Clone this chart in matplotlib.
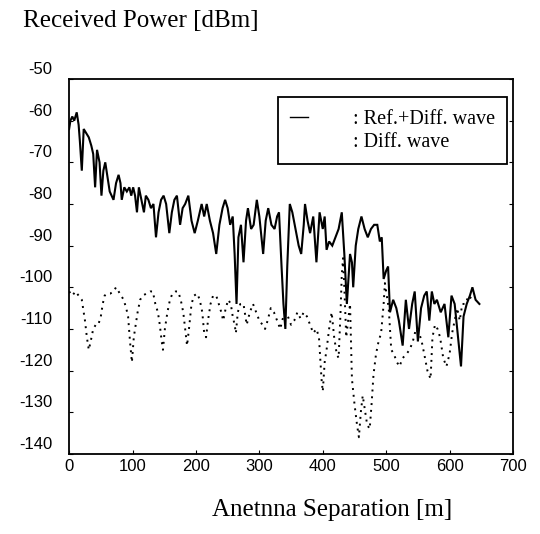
import matplotlib
matplotlib.use('Agg')
import matplotlib.pyplot as plt
import matplotlib.transforms as mtransforms
from matplotlib.lines import Line2D

plt.rcParams['font.family'] = 'Liberation Sans'
plt.rcParams['axes.unicode_minus'] = False

# Ref.+Diff. wave (solid)
sep_total = [0, 2, 5, 8, 12, 15, 17, 20, 23, 27, 31, 35, 38, 41, 44, 48, 51, 54, 57, 60,
             64, 67, 70, 74, 78, 81, 83, 87, 91, 95, 98, 101, 104, 107, 110, 114, 118, 121, 125, 129,
             133, 137, 141, 145, 149, 153, 158, 162, 166, 170, 175, 179, 183, 188, 193, 198, 203, 209, 213, 217,
             222, 227, 232, 237, 242, 246, 250, 254, 258, 261, 264, 267, 271, 275, 279, 282, 287, 291, 296, 300,
             306, 310, 314, 319, 324, 328, 331, 335, 338, 341, 344, 348, 352, 357, 362, 366, 370, 372, 376, 380,
             385, 390, 395, 400, 403, 406, 410, 415, 420, 425, 430, 434, 438, 441, 443, 446, 448, 452, 456, 461,
             466, 471, 476, 481, 486, 490, 493, 496, 500, 503, 506, 511, 516, 520, 526, 531, 536, 541, 545, 550,
             555, 560, 564, 568, 572, 576, 580, 586, 592, 598, 603, 608, 612, 618, 622, 627, 632, 636, 641, 647]
pow_total = [-62, -60, -59, -60, -58, -61, -65, -72, -62, -63, -64, -66, -68, -76, -67, -70, -78, -72, -70, -73,
             -77, -78, -79, -75, -73, -75, -79, -76, -77, -76, -78, -76, -78, -82, -76, -79, -82, -78, -79, -81,
             -80, -88, -82, -79, -78, -80, -87, -82, -79, -78, -85, -81, -80, -78, -84, -87, -84, -80, -83, -80,
             -84, -87, -92, -85, -81, -79, -81, -85, -83, -92, -104, -88, -85, -94, -84, -81, -86, -85, -79, -83,
             -92, -84, -81, -85, -86, -83, -82, -95, -104, -110, -95, -80, -82, -86, -90, -92, -85, -80, -84, -87,
             -83, -94, -82, -86, -83, -91, -89, -90, -88, -86, -82, -92, -104, -97, -92, -94, -100, -90, -86, -83,
             -86, -88, -86, -85, -85, -89, -88, -98, -96, -95, -106, -103, -105, -108, -114, -103, -110, -104, -101, -113,
             -105, -102, -101, -108, -101, -104, -103, -106, -104, -112, -102, -104, -110, -119, -107, -104, -102, -100, -103, -104]

# Diff. wave (dotted)
sep_diff = [0, 5, 10, 15, 20, 25, 28, 31, 34, 38, 42, 46, 50, 53, 56, 60, 65, 70, 74, 78,
            82, 86, 90, 93, 96, 99, 102, 105, 108, 112, 116, 122, 128, 132, 136, 140, 143, 146, 148, 151,
            155, 159, 163, 168, 172, 176, 180, 183, 186, 189, 193, 197, 202, 206, 210, 213, 216, 219, 223, 227,
            232, 236, 240, 243, 247, 251, 255, 258, 261, 263, 266, 270, 275, 280, 285, 290, 295, 300, 305, 309,
            313, 318, 323, 328, 333, 336, 340, 345, 350, 355, 360, 365, 370, 375, 380, 385, 390, 394, 398, 400,
            403, 406, 410, 414, 418, 422, 425, 428, 430, 432, 434, 437, 440, 443, 446, 450, 454, 457, 460, 463,
            466, 470, 474, 477, 480, 484, 488, 492, 496, 498, 501, 504, 508, 512, 517, 521, 526, 532, 537, 542,
            547, 552, 556, 560, 565, 570, 573, 577, 581, 585, 590, 595, 600, 604, 608, 612, 616, 620, 625, 630,
            636, 641]
pow_diff = [-101, -102, -101, -102, -103, -108, -112, -115, -113, -110, -109, -109, -107, -104, -102, -101.5, -101.5, -101, -100, -101,
            -102, -103, -105, -107, -113, -118, -112, -109, -106, -103, -102, -101.5, -101, -101, -104, -106, -109, -113, -115, -110,
            -106, -103, -101.5, -101, -101, -103, -106, -110, -114, -110, -104, -102, -101.5, -103, -106, -111, -112, -108, -104, -102,
            -102, -104, -106, -108, -105, -103, -104, -107, -109, -111, -106, -104, -104, -109, -106, -104, -106, -108, -109, -110,
            -108, -105, -106, -108, -110, -108, -106, -107, -109, -108, -106, -107.5, -106, -107, -109, -111, -110, -112, -122, -125,
            -118, -115, -110, -106, -112, -116, -117, -106, -97, -93, -100, -112, -108, -104, -122, -128, -133, -136, -130, -126,
            -129, -133, -134, -128, -121, -116, -113, -111, -104, -99, -102, -105, -115, -116, -118, -119, -117, -116, -115, -113,
            -110, -111, -113, -116, -120, -122, -112, -109, -110, -112, -117, -119, -116, -111, -108, -105, -108, -104, -104, -102,
            -103, -103]

yticks = list(range(-140, -40, 10))
xticks = list(range(0, 800, 100))

fig = plt.figure(figsize=(5.4, 5.34), dpi=100)
ax = fig.add_axes([0.128, 0.150, 0.822, 0.702])

ax.plot(sep_total, pow_total, color='black', lw=1.5, solid_joinstyle='miter')
ax.plot(sep_diff, pow_diff, color='black', lw=1.4, ls=(0, (1, 2.5)))

ax.set_xlim(0, 700)
ax.set_ylim(-140, -50)
ax.set_xticks(xticks)
ax.set_yticks(yticks)
ax.tick_params(direction='in', length=3, labelsize=12, right=True, pad=4)
ax.tick_params(axis='y', pad=12)
for s in ax.spines.values():
    s.set_linewidth(1.3)

# y labels sit a little above their ticks in the original
offset = mtransforms.ScaledTranslation(0, 0.11, fig.dpi_scale_trans)
for lab in ax.get_yticklabels():
    lab.set_transform(lab.get_transform() + offset)

handles = [Line2D([], [], color='black', lw=1.0),
           Line2D([], [], color='white', lw=1.0)]
leg = ax.legend(handles, [': Ref.+Diff. wave', ': Diff. wave'],
                loc='upper right', bbox_to_anchor=(0.986, 0.951),
                prop={'family': 'Liberation Serif', 'size': 14.5},
                handlelength=0.9, handletextpad=2.2, labelspacing=0.2,
                borderpad=0.6, borderaxespad=0, fancybox=False, framealpha=1)
leg.get_frame().set_edgecolor('black')
leg.get_frame().set_linewidth(1.3)

fig.text(0.043, 0.981, 'Received Power [dBm]', family='Liberation Serif',
         size=18, va='top', ha='left')
fig.text(0.615, 0.045, 'Anetnna Separation [m]', family='Liberation Serif',
         size=18, va='center', ha='center')

fig.savefig('out.png', dpi=100)
